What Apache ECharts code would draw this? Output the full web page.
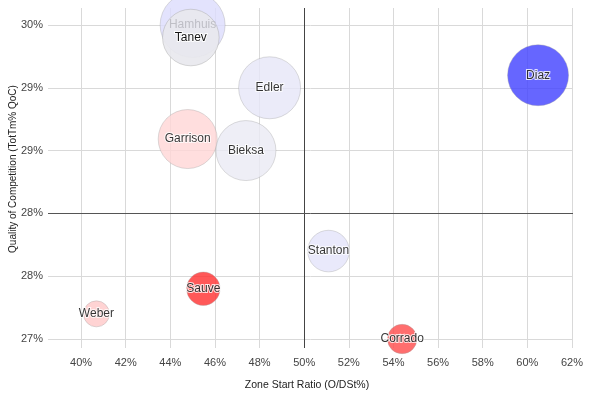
<!DOCTYPE html>
<html>
<head>
<meta charset="utf-8">
<script src="https://cdn.jsdelivr.net/npm/echarts@6/dist/echarts.min.js"></script>
<style>html,body{margin:0;padding:0;background:#fff}#c{width:600px;height:394px}</style>
</head>
<body>
<div id="c"></div>
<script>
var players = ['Hamhuis','Tanev','Edler','Garrison','Bieksa','Diaz','Stanton','Corrado','Sauve','Weber'];
var zoneStart = [45.0, 44.92, 48.45, 44.78, 47.39, 60.48, 51.09, 54.39, 45.48, 40.69];
var qoc = [30.0, 29.88, 29.4, 28.91, 28.8, 29.52, 27.84, 27.0, 27.48, 27.24];
var bubbleSize = [32.5, 28.3, 31, 29.5, 30, 30.5, 20.8, 14.7, 16.7, 13];
var colors = ['#dcdcfd','#e8e8ee','#e6e6f8','#ffd6d6','#eaeaf4','#4040ff','#e4e4fa','#ff4a4a','#ff2e2e','#ffc8c8'];
var xTicks = [40,42,44,46,48,50,52,54,56,58,60,62];
var yTicks = [27,27.6,28.2,28.8,29.4,30];
var xBase = 50, yBase = 28.2;

var data = players.map(function(p,i){
  var item = {name:p, value:[zoneStart[i], qoc[i], bubbleSize[i]], itemStyle:{color:colors[i]}};
  if (p === 'Hamhuis') item.label = {color:'#b4b4bc', textBorderWidth:0};
  if (p === 'Tanev') item.itemStyle.opacity = 0.92;
  return item;
});

var chart = echarts.init(document.getElementById('c'), null, {renderer:'canvas'});
chart.setOption({
  animation:false,
  grid:{left:48, right:27, top:8, bottom:46, containLabel:false, outerBoundsMode:'none'},
  xAxis:{
    type:'value', min:38.52, max:62.045,
    name:'Zone Start Ratio (O/DSt%)', nameLocation:'middle', nameGap:32, nameMoveOverlap:false,
    nameTextStyle:{color:'#222', fontFamily:'Liberation Sans, Arial', fontSize:10.5, padding:[0,7,0,0]},
    axisLine:{show:false}, axisTick:{show:false, customValues:xTicks},
    axisLabel:{customValues:xTicks, color:'#444', fontFamily:'Liberation Sans, Arial', fontSize:11, margin:9,
      formatter:function(v){return Math.round(v)+'%';}},
    splitLine:{show:true, lineStyle:{color:'#d9d9d9', width:1}}
  },
  yAxis:{
    type:'value', min:26.914, max:30.162,
    name:'Quality of Competition (TotTm% QoC)', nameLocation:'middle', nameGap:30, nameRotate:90, nameMoveOverlap:false,
    nameTextStyle:{color:'#222', fontFamily:'Liberation Sans, Arial', fontSize:10, padding:[0,0,0,18]},
    axisLine:{show:false}, axisTick:{show:false, customValues:yTicks},
    axisLabel:{customValues:yTicks, color:'#444', fontFamily:'Liberation Sans, Arial', fontSize:11, margin:5,
      formatter:function(v){return Math.round(v)+'%';}},
    splitLine:{show:true, lineStyle:{color:'#d9d9d9', width:1}}
  },
  series:[{
    type:'scatter',
    data:data,
    clip:true,
    symbolSize:function(v){return v[2]*2;},
    itemStyle:{borderColor:'rgba(160,160,160,0.45)', borderWidth:1},
    label:{show:true, position:'inside', formatter:'{b}', color:'#000',
      fontFamily:'Liberation Sans, Arial', fontSize:12,
      textBorderColor:'#fff', textBorderWidth:2},
    emphasis:{disabled:true},
    markLine:{
      silent:true, symbol:'none', label:{show:false},
      data:[
        {xAxis:xBase, lineStyle:{color:'#444', width:1, type:'solid'}},
        {yAxis:yBase, lineStyle:{color:'#555', width:1, type:'solid'}}
      ]
    }
  }]
});
</script>
</body>
</html>
